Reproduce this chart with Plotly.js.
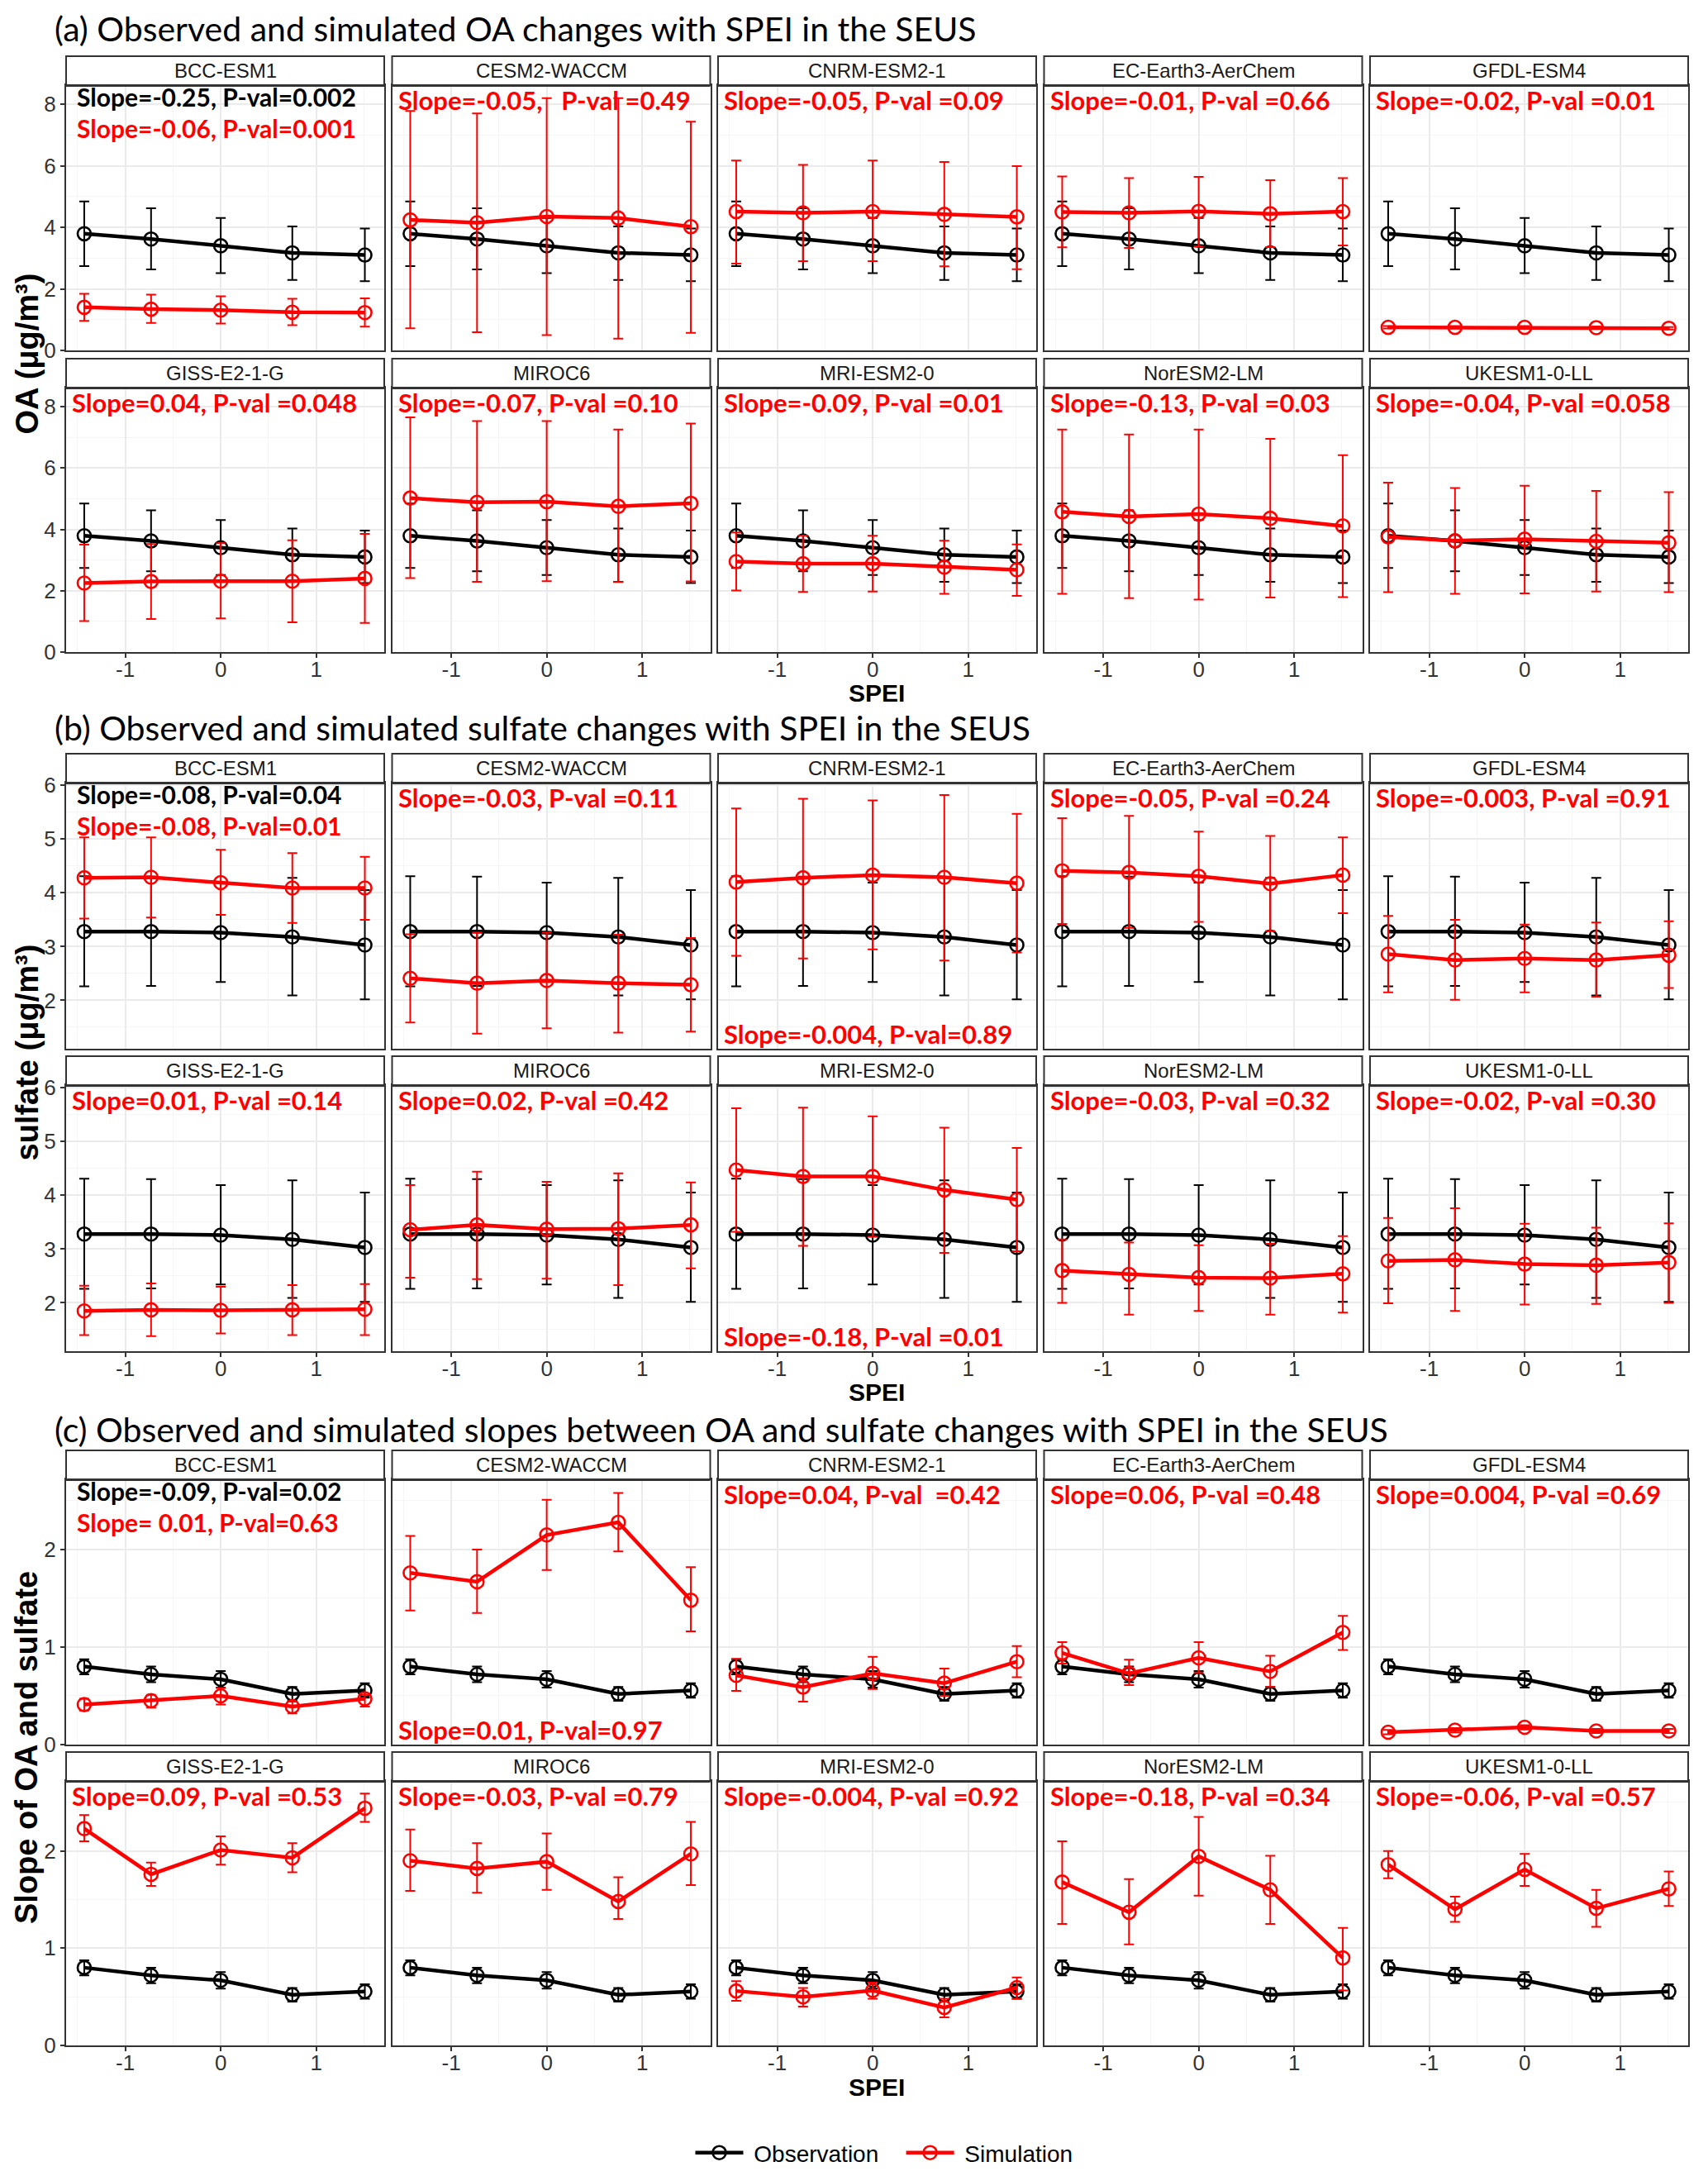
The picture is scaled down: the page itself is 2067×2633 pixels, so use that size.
<!DOCTYPE html>
<html><head><meta charset="utf-8">
<script src="https://cdn.plot.ly/plotly-3.0.1.min.js"></script>
<style>html,body{margin:0;padding:0;background:#fff}</style>
</head><body><div id="chart" style="width:2067px;height:2633px"></div>
<script>
// ---------------- DATA ----------------
const models = ["BCC-ESM1","CESM2-WACCM","CNRM-ESM2-1","EC-Earth3-AerChem","GFDL-ESM4",
                "GISS-E2-1-G","MIROC6","MRI-ESM2-0","NorESM2-LM","UKESM1-0-LL"];
const spei = [-1.43, -0.73, 0, 0.75, 1.51];

// (a) OA
const oaObsMean = [3.79, 3.62, 3.40, 3.17, 3.10];
const oaObsLow  = [2.74, 2.63, 2.51, 2.29, 2.25];
const oaObsHigh = [4.84, 4.62, 4.30, 4.03, 3.96];
const oaSimMean = [
  [1.40, 1.34, 1.31, 1.24, 1.23],
  [4.24, 4.15, 4.35, 4.30, 4.02],
  [4.51, 4.47, 4.51, 4.42, 4.34],
  [4.50, 4.47, 4.52, 4.44, 4.51],
  [0.75, 0.75, 0.75, 0.74, 0.72],
  [2.25, 2.30, 2.31, 2.31, 2.40],
  [5.02, 4.88, 4.90, 4.75, 4.85],
  [2.95, 2.88, 2.88, 2.77, 2.68],
  [4.57, 4.42, 4.50, 4.36, 4.11],
  [3.75, 3.63, 3.68, 3.61, 3.56]];
const oaSimLow = [
  [0.96, 0.89, 0.87, 0.82, 0.77],
  [0.72, 0.59, 0.50, 0.38, 0.57],
  [2.82, 2.90, 2.90, 2.73, 2.64],
  [3.35, 3.33, 3.38, 3.36, 3.41],
  [0.71, 0.71, 0.71, 0.70, 0.68],
  [1.01, 1.08, 1.10, 0.97, 0.95],
  [2.41, 2.29, 2.31, 2.28, 2.30],
  [2.01, 1.96, 1.97, 1.90, 1.83],
  [1.90, 1.76, 1.71, 1.78, 1.79],
  [1.95, 1.90, 1.91, 1.97, 1.95]];
const oaSimHigh = [
  [1.84, 1.81, 1.76, 1.68, 1.69],
  [7.78, 7.70, 8.20, 8.20, 7.43],
  [6.17, 6.03, 6.17, 6.12, 5.99],
  [5.65, 5.60, 5.64, 5.53, 5.60],
  [0.79, 0.79, 0.79, 0.78, 0.76],
  [3.50, 3.52, 3.55, 3.64, 3.85],
  [7.65, 7.53, 7.53, 7.25, 7.45],
  [3.90, 3.80, 3.79, 3.63, 3.51],
  [7.25, 7.09, 7.25, 6.95, 6.42],
  [5.52, 5.35, 5.42, 5.25, 5.21]];

// (b) sulfate
const so4ObsMean = [3.28, 3.28, 3.26, 3.18, 3.03];
const so4ObsLow  = [2.26, 2.27, 2.34, 2.09, 2.02];
const so4ObsHigh = [4.31, 4.30, 4.19, 4.28, 4.05];
const so4SimMean = [
  [4.28, 4.29, 4.19, 4.09, 4.09],
  [2.41, 2.32, 2.37, 2.32, 2.29],
  [4.20, 4.28, 4.33, 4.29, 4.18],
  [4.41, 4.38, 4.31, 4.17, 4.33],
  [2.86, 2.75, 2.78, 2.75, 2.84],
  [1.85, 1.87, 1.86, 1.87, 1.88],
  [3.36, 3.45, 3.37, 3.38, 3.45],
  [4.47, 4.35, 4.35, 4.10, 3.92],
  [2.60, 2.53, 2.47, 2.46, 2.54],
  [2.78, 2.80, 2.72, 2.70, 2.75]];
const so4SimLow = [
  [3.52, 3.54, 3.59, 3.44, 3.50],
  [1.59, 1.38, 1.48, 1.40, 1.42],
  [2.83, 2.78, 2.95, 2.74, 2.89],
  [3.42, 3.35, 3.46, 3.29, 3.62],
  [2.15, 2.01, 2.15, 2.07, 2.23],
  [1.40, 1.38, 1.43, 1.40, 1.40],
  [2.47, 2.44, 2.45, 2.33, 2.64],
  [3.32, 3.06, 3.23, 2.93, 2.96],
  [2.00, 1.78, 1.85, 1.78, 1.82],
  [1.99, 1.85, 1.97, 1.98, 2.00]];
const so4SimHigh = [
  [5.03, 5.03, 4.80, 4.74, 4.67],
  [3.23, 3.26, 3.26, 3.22, 3.16],
  [5.57, 5.75, 5.72, 5.82, 5.47],
  [5.39, 5.43, 5.14, 5.06, 5.03],
  [3.57, 3.50, 3.41, 3.45, 3.47],
  [2.32, 2.36, 2.30, 2.33, 2.35],
  [4.19, 4.44, 4.25, 4.41, 4.24],
  [5.62, 5.63, 5.47, 5.26, 4.88],
  [3.18, 3.12, 3.07, 3.10, 3.24],
  [3.58, 3.76, 3.47, 3.40, 3.48]];

// (c) slope of OA and sulfate
const slpObsMean = [0.80, 0.72, 0.67, 0.52, 0.555];
const slpObsLow  = [0.72, 0.64, 0.585, 0.45, 0.48];
const slpObsHigh = [0.875, 0.80, 0.755, 0.59, 0.63];
const slpSimMean = [
  [0.41, 0.45, 0.50, 0.39, 0.47],
  [1.76, 1.67, 2.15, 2.28, 1.48],
  [0.71, 0.59, 0.73, 0.63, 0.85],
  [0.94, 0.73, 0.89, 0.75, 1.15],
  [0.127, 0.148, 0.178, 0.14, 0.14],
  [2.23, 1.76, 2.01, 1.93, 2.44],
  [1.90, 1.82, 1.89, 1.48, 1.97],
  [0.56, 0.50, 0.565, 0.39, 0.595],
  [1.68, 1.37, 1.945, 1.60, 0.90],
  [1.86, 1.40, 1.81, 1.41, 1.61]];
const slpSimLow = [
  [0.35, 0.38, 0.41, 0.32, 0.39],
  [1.375, 1.35, 1.79, 1.98, 1.16],
  [0.55, 0.44, 0.57, 0.50, 0.69],
  [0.83, 0.61, 0.74, 0.59, 0.97],
  [0.105, 0.125, 0.155, 0.118, 0.118],
  [2.10, 1.64, 1.86, 1.78, 2.30],
  [1.59, 1.57, 1.60, 1.30, 1.65],
  [0.46, 0.40, 0.48, 0.29, 0.48],
  [1.25, 1.04, 1.54, 1.25, 0.565],
  [1.72, 1.27, 1.64, 1.22, 1.435]];
const slpSimHigh = [
  [0.47, 0.51, 0.58, 0.44, 0.51],
  [2.14, 2.00, 2.51, 2.58, 1.82],
  [0.88, 0.68, 0.90, 0.78, 1.01],
  [1.05, 0.87, 1.05, 0.91, 1.32],
  [0.15, 0.17, 0.20, 0.162, 0.162],
  [2.37, 1.88, 2.15, 2.08, 2.59],
  [2.22, 2.08, 2.18, 1.73, 2.30],
  [0.66, 0.59, 0.645, 0.48, 0.70],
  [2.10, 1.71, 2.35, 1.95, 1.21],
  [2.00, 1.53, 1.97, 1.60, 1.79]];

// slope / p-value labels
const oaObsLabel  = "Slope=-0.25, P-val=0.002";
const so4ObsLabel = "Slope=-0.08, P-val=0.04";
const slpObsLabel = "Slope=-0.09, P-val=0.02";
const oaSimLabels = ["Slope=-0.06, P-val=0.001","Slope=-0.05,   P-val =0.49","Slope=-0.05, P-val =0.09",
  "Slope=-0.01, P-val =0.66","Slope=-0.02, P-val =0.01","Slope=0.04, P-val =0.048","Slope=-0.07, P-val =0.10",
  "Slope=-0.09, P-val =0.01","Slope=-0.13, P-val =0.03","Slope=-0.04, P-val =0.058"];
const so4SimLabels = ["Slope=-0.08, P-val=0.01","Slope=-0.03, P-val =0.11","Slope=-0.004, P-val=0.89",
  "Slope=-0.05, P-val =0.24","Slope=-0.003, P-val =0.91","Slope=0.01, P-val =0.14","Slope=0.02, P-val =0.42",
  "Slope=-0.18, P-val =0.01","Slope=-0.03, P-val =0.32","Slope=-0.02, P-val =0.30"];
const slpSimLabels = ["Slope= 0.01, P-val=0.63","Slope=0.01, P-val=0.97","Slope=0.04, P-val  =0.42",
  "Slope=0.06, P-val =0.48","Slope=0.004, P-val =0.69","Slope=0.09, P-val =0.53","Slope=-0.03, P-val =0.79",
  "Slope=-0.004, P-val =0.92","Slope=-0.18, P-val =0.34","Slope=-0.06, P-val =0.57"];

const sectionTitles = [
  "(a) Observed and simulated OA changes with SPEI in the SEUS",
  "(b) Observed and simulated sulfate changes with SPEI in the SEUS",
  "(c) Observed and simulated slopes between OA and sulfate changes with SPEI in the SEUS"];
const yTitles = ["OA (μg/m³)", "sulfate (μg/m³)", "Slope of OA and sulfate"];
const xTitle = "SPEI";
const seriesNames = ["Observation", "Simulation"];
const xTickVals = [-1, 0, 1];
const xTickText = ["-1", "0", "1"];
const yTickVals = [[0,2,4,6,8],[2,3,4,5,6],[0,1,2]];

// ---------------- LAYOUT ----------------
const W = 2067, H = 2633;
const colLeft = [80, 474.5, 869, 1263.5, 1658];
const panelW = 385, stripH = 35;
const rowPx = [ [[103,424],[469,789]], [[947,1269],[1313,1635]], [[1790,2111],[2155,2475]] ];
const titleY = [35, 880, 1729];
const yRanges = [[0, 8.62],[1.1, 6.05],[0, 2.72]];
const yMinor = [[1,3,5,7],[1.5,2.5,3.5,4.5,5.5],[0.5,1.5,2.5]];
const bottomLabel = [[], [2, 7], [1]];   // panels whose sim label sits at the bottom

const sections = [
  {obsM: oaObsMean, obsL: oaObsLow, obsH: oaObsHigh, simM: oaSimMean, simL: oaSimLow, simH: oaSimHigh, obsLab: oaObsLabel, simLab: oaSimLabels},
  {obsM: so4ObsMean, obsL: so4ObsLow, obsH: so4ObsHigh, simM: so4SimMean, simL: so4SimLow, simH: so4SimHigh, obsLab: so4ObsLabel, simLab: so4SimLabels},
  {obsM: slpObsMean, obsL: slpObsLow, obsH: slpObsHigh, simM: slpSimMean, simL: slpSimLow, simH: slpSimHigh, obsLab: slpObsLabel, simLab: slpSimLabels}
];

const px = v => v / W;
const py = v => 1 - v / H;
const tickFont = {family: "Liberation Sans, Arial, sans-serif", size: 26, color: "#333333"};
const NB = "\u00A0";

const traces = [];
const layout = {
  width: W, height: H, margin: {l:0, r:0, t:0, b:0},
  paper_bgcolor: "#ffffff", plot_bgcolor: "#ffffff",
  showlegend: true,
  legend: {orientation: "h", x: px(1070), xanchor: "center", y: py(2605), yanchor: "middle",
           font: {family: "Liberation Sans, Arial, sans-serif", size: 28, color: "#000"},
           itemwidth: 58, tracegroupgap: 0, bgcolor: "rgba(0,0,0,0)"},
  shapes: [], annotations: []
};

function errTrace(xa, ya, mean, low, high, color, name, legName, showleg) {
  return {
    type: "scatter", mode: "lines+markers", x: spei, y: mean, xaxis: xa, yaxis: ya,
    name: legName, showlegend: showleg, legendgroup: name,
    line: {color: color, width: 4.5},
    marker: {symbol: "circle-open", size: 16, color: color, line: {width: 2.6, color: color}},
    error_y: {type: "data", symmetric: false,
              array: high.map((h, i) => h - mean[i]),
              arrayminus: mean.map((m, i) => m - low[i]),
              color: color, thickness: 2, width: 6},
    hoverinfo: "skip"
  };
}

for (let s = 0; s < 3; s++) {
  const S = sections[s];
  for (let k = 0; k < 10; k++) {
    const idx = s * 10 + k, n = idx + 1, suf = n === 1 ? "" : String(n);
    const r = Math.floor(k / 5), c = k % 5;
    const left = colLeft[c], right = left + panelW;
    const top = rowPx[s][r][0], bot = rowPx[s][r][1];
    const xa = "x" + suf, ya = "y" + suf;

    layout["xaxis" + suf] = {
      domain: [px(left), px(right)], anchor: ya, range: [-1.62, 1.713],
      tickmode: "array", tickvals: xTickVals, ticktext: xTickText,
      showticklabels: r === 1, ticks: r === 1 ? "outside" : "", ticklen: 5, tickwidth: 2, tickcolor: "#333",
      ticklabelstandoff: -8,
      tickfont: tickFont, showgrid: true, gridcolor: "#EBEBEB", gridwidth: 2,
      minor: {tickmode: "array", tickvals: [-1.5, -0.5, 0.5, 1.5], showgrid: true, gridcolor: "#F5F5F5", gridwidth: 1, ticks: ""},
      zeroline: false, showline: true, mirror: true, linecolor: "#333", linewidth: 2, fixedrange: true
    };
    layout["yaxis" + suf] = {
      domain: [py(bot), py(top)], anchor: xa, range: yRanges[s],
      tickmode: "array", tickvals: yTickVals[s], ticktext: yTickVals[s].map(String),
      showticklabels: c === 0, ticks: c === 0 ? "outside" : "", ticklen: 5, tickwidth: 2, tickcolor: "#333",
      tickfont: tickFont, showgrid: true, gridcolor: "#EBEBEB", gridwidth: 2,
      minor: {tickmode: "array", tickvals: yMinor[s], showgrid: true, gridcolor: "#F5F5F5", gridwidth: 1, ticks: ""},
      zeroline: false, showline: true, mirror: true, linecolor: "#333", linewidth: 2, fixedrange: true
    };

    traces.push(errTrace(xa, ya, S.obsM, S.obsL, S.obsH, "#000000", seriesNames[0],
                         NB + seriesNames[0] + NB + NB + NB, idx === 0));
    traces.push(errTrace(xa, ya, S.simM[k], S.simL[k], S.simH[k], "#FF0000", seriesNames[1],
                         NB + seriesNames[1], idx === 0));

    // strip
    layout.shapes.push({type: "rect", xref: "paper", yref: "paper",
      x0: px(left), x1: px(right), y0: py(top), y1: py(top - stripH),
      fillcolor: "#ffffff", line: {color: "#333", width: 2}, layer: "above"});
    layout.shapes.push({type: "line", xref: "paper", yref: "paper",
      x0: px(left), x1: px(right), y0: py(top + 0.5), y1: py(top + 0.5),
      line: {color: "#333", width: 3}, layer: "above"});
    layout.annotations.push({xref: "paper", yref: "paper", x: px((left + right) / 2), y: py(top - stripH / 2),
      text: models[k], showarrow: false, xanchor: "center", yanchor: "middle",
      font: {family: "Liberation Sans, Arial, sans-serif", size: 24, color: "#1a1a1a"}});

    // slope labels
    const labFont = {family: "Lato, Carlito, sans-serif", size: 31};
    if (k === 0) {
      layout.annotations.push({xref: "paper", yref: "paper", x: px(left + 11), y: py(top + 14),
        text: "<b>" + S.obsLab + "</b>", showarrow: false, xanchor: "left", yanchor: "middle",
        font: {family: labFont.family, size: 30, color: "#000000"}});
      layout.annotations.push({xref: "paper", yref: "paper", x: px(left + 11), y: py(top + 52),
        text: "<b>" + S.simLab[k] + "</b>", showarrow: false, xanchor: "left", yanchor: "middle",
        font: {family: labFont.family, size: 30, color: "#FF0000"}});
    } else {
      const atBottom = bottomLabel[s].indexOf(k) >= 0;
      layout.annotations.push({xref: "paper", yref: "paper", x: px(left + 5),
        y: atBottom ? py(bot - 18) : py(top + 18),
        text: "<b>" + S.simLab[k] + "</b>", showarrow: false, xanchor: "left", yanchor: "middle",
        font: Object.assign({color: "#FF0000"}, labFont)});
    }
  }
  // section title
  layout.annotations.push({xref: "paper", yref: "paper", x: px(64), y: py(titleY[s]),
    text: sectionTitles[s], showarrow: false, xanchor: "left", yanchor: "middle",
    font: {family: "Lato, Carlito, sans-serif", size: 41, color: "#000"}});
  // y title
  const secTop = rowPx[s][0][0] - stripH, secBot = rowPx[s][1][1];
  layout.annotations.push({xref: "paper", yref: "paper", x: px(32), y: py((secTop + secBot) / 2),
    text: "<b>" + yTitles[s] + "</b>", showarrow: false, textangle: -90, xanchor: "center", yanchor: "middle",
    font: {family: "Liberation Sans, Arial, sans-serif", size: 38, color: "#000"}});
  // x title
  layout.annotations.push({xref: "paper", yref: "paper", x: px(1061), y: py(rowPx[s][1][1] + 50),
    text: "<b>" + xTitle + "</b>", showarrow: false, xanchor: "center", yanchor: "middle",
    font: {family: "Liberation Sans, Arial, sans-serif", size: 30, color: "#000"}});
}

Plotly.newPlot("chart", traces, layout, {displayModeBar: false, staticPlot: true});
</script>
</body></html>
